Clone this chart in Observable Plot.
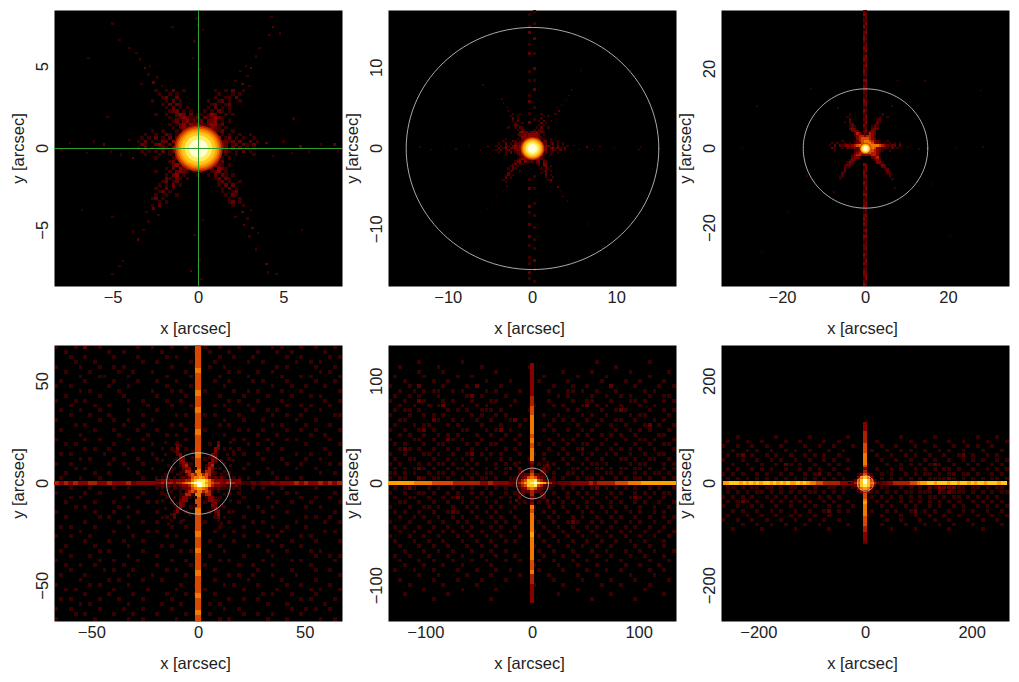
<!DOCTYPE html>
<html>
<head>
<meta charset="utf-8">
<script src="https://cdn.jsdelivr.net/npm/d3@7"></script>
<script src="https://cdn.jsdelivr.net/npm/@observablehq/plot@0.6"></script>
<style>
  body { margin: 0; background: white; width: 1019px; height: 682px; position: relative; overflow: hidden; }
  .panel { position: absolute; }
</style>
</head>
<body>
<script>
const panelLimits = [8.43, 17.1, 34.7, 67.5, 135, 270];
const panelTicks = [[-5, 0, 5], [-10, 0, 10], [-20, 0, 20], [-50, 0, 50], [-100, 0, 100], [-200, 0, 200]];
const apertureRadius = 15;
const heatColors = ["#000000", "#3a0000", "#600000", "#860000", "#a82000", "#d84800", "#f07800", "#ffa000", "#ffc820", "#ffee60", "#ffffd8"];

// bright core, arcsec radius and colour level, shared by the three inner panels
const coreRadii = [1.42, 1.32, 1.22, 1.12, 1.0, 0.8, 0.55];
const coreLevels = [4, 5, 6, 7, 8, 9, 10];

const centre1 = [
"00000100102001000000001001020010000",
"00000010010100000000000100010100000",
"00000001200200000000001001102000000",
"00001000102010000000100120100100000",
"00000001020210000000012001200000000",
"00000000102010100000102010100000000",
"00000000012201010001010210100000000",
"00000100100232020110132001010000000",
"00000000010123211202123210000000000",
"00000000001202312120223010100000000",
"00000000010123132321233120000000000",
"00000000001023213232132101000000000",
"00001001000103233342322120010000000",
"00100100210113244434231010100100100",
"01010201020224344444342301201010010",
"10201002203134444444443122120200201",
"02100231020344444444443032012021020",
"10201012103134444444443232020201010",
"01010102012034344444342102101020100",
"00100010010123244443231001001000010",
"00000100001203234342322010100000000",
"00000000012023223323232120000000000",
"00000000002313212132103210100000000",
"00000000102032310232120321000000000",
"00000100010232101020012301000000000",
"00000000102301000100102021010000000",
"00000000210210100000001202100000000",
"00000001201200000000000120100100000",
"00000010102010000000000102020000000",
"00000100201000000000000010201000000",
"00000012010000000000000010012000000",
"00000100100100000000000001021000000",
"00001201000000000000000000100100000",
"00000010100000000000000000120100000",
"00001020000000000000000000010010000"];

const specks1 = [[-2.6,4.0,2],[-2.9,4.5,1],[-2.4,4.3,1],[-3.1,4.9,2],[-3.4,5.4,1],[-2.8,5.0,1],[-3.6,5.8,1],[-4.6,6.6,1],[-4.0,6.1,1],[-3.3,3.9,1],[-2.1,3.8,1],
[2.6,3.9,2],[2.9,4.4,1],[3.1,4.9,2],[3.4,5.6,1],[2.8,5.0,1],[3.6,6.1,1],[4.2,6.9,1],[4.4,7.4,2],[4.3,8.0,1],[4.8,7.0,1],[3.0,3.8,1],[2.2,4.1,1],[2.5,4.7,1],
[2.6,-3.9,2],[2.9,-4.3,1],[3.2,-4.9,2],[3.0,-5.4,1],[3.4,-6.2,1],[4.0,-7.1,2],[4.1,-7.6,1],[2.2,-4.2,1],[3.5,-5.2,1],[2.7,-4.7,2],[3.1,-3.8,1],
[-2.6,-3.7,2],[-2.9,-4.5,1],[-3.2,-5.0,1],[-3.5,-5.6,2],[-4.4,-6.9,1],[-4.6,-7.2,1],[-5.0,-7.7,1],[-2.3,-4.1,1],[-3.0,-3.9,1],[-3.8,-5.1,1],
[-7.5,0.3,1],[-6.5,-0.3,1],[-5.5,0.2,2],[-4.5,-0.4,1],[-4.0,0.5,1],[-3.8,-0.6,2],[-5.1,-0.2,1],[-6.1,0.4,1],[-8.0,-0.1,1],[4.0,0.3,2],[4.4,-0.5,1],[5.0,0.4,1],[5.5,-0.3,1],[6.0,0.1,2],[6.5,-0.2,1],[7.2,0.2,1],[8.0,0.2,2],[8.2,-0.2,1],
[0,7.5,2],[-0.1,7.9,1],[0.3,7.2,1],[-0.2,6.5,1],[0.1,4.8,1],[-0.3,5.5,1],[0.1,-6.8,1],[-0.4,-7.5,2],[0.2,-8,1],[0,-7.2,1],[-0.2,-5.3,1],[0.3,-4.4,1],
[-6.4,5.5,1],[-5,7.6,1],[-5.3,1.9,1],[5.6,1.8,1],[-6.8,-3.8,1],[-5.0,-4.2,1],[6.1,-5.0,1],[4.6,-7.7,1],[-1.5,7.4,1]];

const centre2 = [
"0000000100100000000100000100000",
"0000001001000000000010100000000",
"0000000201000000000100000000000",
"0000000102000000001020010000000",
"0000000010010000000201000000000",
"0000000021000000001010000000000",
"0000010010210000010200100000000",
"0000000001021000102100000000000",
"0000000000232212231210000000000",
"0000000001223233332010000000000",
"0000000000133233232100000000000",
"0000100001023344433110010000000",
"0001000210123444443022010010000",
"0100201021234444444212012010100",
"1010210232344444444323201020101",
"0201302232344444444423023121020",
"1020121023244444444323012102010",
"0100102012234444444212011010000",
"0000100001223444432210010000000",
"0000000000123344333100000000000",
"0000000001233233233210000000000",
"0000000012303212023021000000000",
"0000000120210000012032000000000",
"0000001201000000001023010000000",
"0000010210000000000102100000000",
"0000002100100000000012010000000",
"0000020000000000000102000000000",
"0000120100000000000002010000000",
"0000201000000000000001001000000",
"0001000000000000000000120000000",
"0000100000000000000000010000000"];

const specks2 = [[-13.3,0.1,1],[-12,-0.2,1],[-10.5,0.2,1],[-9,-0.1,1],[-7.5,0.3,1],[-6.1,-0.3,2],[-5.2,0.2,2],[-4.7,-0.3,2],[5.0,0.3,2],[5.6,-0.2,1],[6.5,0.1,2],[7.2,-0.2,1],[8.1,0.2,2],[9.8,0.0,1],[12.7,-0.2,2],[12.9,0.1,1],
[4.4,6.5,1],[4.7,7.2,2],[4.0,6.0,1],[3.5,5.3,1],[3.2,4.6,2],[3.0,5.0,1],[-3.0,5.0,1],[-3.4,5.6,1],[-2.8,4.6,2],[-3.6,6.1,1],[-5.8,7.8,1],
[3.1,-4.8,2],[3.4,-5.4,1],[3.7,-6.0,2],[4.2,-6.6,1],[-3.0,-4.7,1],[-3.4,-5.4,1],[-4.2,-6.0,1],[-4.8,-6.9,1],[-5.3,-7.5,1],[5.8,9.6,1],[-9.8,3.9,1],[6.6,-9.4,1]];

const vSpike2a = "01000102000100200000100100001020001002000000000000000000100200000201000200020010001010020100";
const vSpike2b = "10001000020000100002000100200000100010000000000000000001000100001000100010001001000200100010";

const centre3 = [
"00000000100000000000010000000",
"00000001000000000000100100000",
"00000000200000000001200000000",
"00000010200000000002100000000",
"00000000120000000012000000000",
"00000000121000000121000000000",
"00000000232000000232000000000",
"00000000023200001320000000000",
"00000000002431014320000000000",
"00000000001344344310000000000",
"00000000000345554320000000000",
"00000100001245665432100100000",
"01010010101235666532101010101",
"10202123234566666666543212202",
"02100102123235666653212102010",
"00100000001234566543210010000",
"00000000001344555443100000000",
"00000000013443333443000000000",
"00000000023310000234100000000",
"00000000132000000023200000000",
"00000001320000000003310000000",
"00000012210000000000132000000",
"00000021100000000000022000000",
"00000020000000000000001200000",
"00000120000000000000000210000",
"00000200000000000000000120000",
"00001100000000000000000010000",
"00001000000000000000000001000",
"00000000000000000000000000000"];

const specks3 = [[-29.5,0,1],[-15.8,0.4,1],[10.5,0.2,1],[13,-0.3,1],[22,0.1,1],[28.5,0.2,1],[-24.8,-26,1],[-26,10.5,1],[14.5,16.8,1],[28,14.5,1],[-18.5,-16,1],[20.5,-22,1],[-13,15,1],[8,17,1],[-14,-7,1],[16,-9,1],[6.5,10.5,1],[-6.5,10,1],[7.2,-10,1],[-7.4,-11,1]];

const vSpike3a = "23121312232132123122321313221232132121312232132100031232132123122311232312132122132131232123";
const vSpike3b = "12213123121223132231121322312123121323123212323100023213122313213221312213231223121321223312";

const bg4 = [
"100010200100000001001000100100010010001000000101000100100010",
"001000000001001000000010000001001000100000100010010000001000",
"000100100000100001000001010000000010010001000000100100000101",
"000010001000000000100100000010000100000010010000001001010000",
"100001000100101000000000100001001001000000000010100000100010",
"001000010000010010001000000100100000101000100100000000010100",
"000001000110000100000001000010000010000010000001000101000001",
"010000100000100001000100010000000100100001010000100000100010",
"100100000001000100000001000010100001000000000100010010001000",
"000001010000010000001000101000010000010010100001000100000001",
"001000000100001000000100000100000010000100001000010001010000",
"100010100000000100100001001000100000101000100001000000001001",
"000100001001000000010000100010000101000010000000100101000100",
"010001000100000100000100000001000000100001001010000010010000",
"000100010001000000100000010100010100001000000100100100000011",
"100000000100100100001000000000100001000100010000001000100000",
"000010100000001000100000101001000010100000000101000010000100",
"010000001000100001000100000100010000001010010000100100100001",
"000001000000010000010001010001000001000000100010000001001000",
"100000100100000100100000000100100000010100001000101000000100",
"001010000000100000001000010000001000000010100100000010000001",
"000000101001000010100000100101000001001000001001000000001000",
"010100000010001000001000000000100100010100100000001001000100",
"000001010000100001000100010000010000100000010001000010010000",
"100100000001001000100000000210001001000010000000100100000101",
"000010100000000100001000100000100010000100001000001000100000",
"001000001001000001000000001000010100100000100100000000010010",
"010001000100000000100001000120000000010010000010100100000000",
"000101001000010100001000100000100010001000010000000100100001",
"000100010000100100000100010100001001000001010001000000100000",
"100000100100000000100010000010100000101000000100101000000010",
"000101000000001001000001000100000010000100001000000100100100",
"001000001000100000010100100000010100001000000010010001000001",
"000010100000010100000000010010000001000010100100000010010000",
"100000001000100001000100000100001000100000010000100000000010",
"001000000101000100000001000000100100000100000100000010100100",
"000000100000010000100100001000010000100001010000001000001001",
"010100001000000100000000100100000010000100000100100010000000",
"000001000000100000010100000001000100010000100001000000001010",
"100100010000000010000001010000000001000100001010000101000000",
"000000100001001000100000000100001000010000000100010000100001",
"001000001000000100000010100000100010000010100001000100000000",
"010000000101000000100000001010000001000000001000100001010000",
"000100010000000100000100000000101000000100000100000000100101",
"100000000100100001000000100100000010100000010000010100000010",
"001001001000001000000100000010010000001001000100000001000000",
"000100000010100010000001010000000100000000100000010000100100",
"010000100000000100001000000100000000101001000100001000000001",
"000001000001010000100010000000100100000010000001000000100000",
"100000010100000100000000001001000001010000100000100100000100",
"001010000000100000010000010000010000000100000010000001010001",
"000000100001000010000001000101000100000000010100010000100000",
"010100000100010000100000100000100000100100100000000101000010",
"000001010000000100000010001000001010000000001000100000001000",
"100100000100001000100000100000000001001000000000010010100100",
"000010100000100010000100000100101000000100100100000100000000",
"100000001000000100100000010000000010100000001000100000010010"];

const bg5 = [
"000000000000000000000000000000000000000000000000000000000000",
"000000000000000000000000000000000000000000000000000000000000",
"000000000000000000000000000000000000000000000000000000000000",
"000000100000000100000000000000000000000000010000000000100000",
"001000000010000000010000000001000000000000000001000000000000",
"000000100001000000000010000000000000100000100000001000000010",
"010000010000001001000000000000001000000100000100000000100000",
"000100000100100000001000010000010000010000001000010010000100",
"100010200001000010200001000000000010001001000020000100001001",
"001001010110010100001010000100000100011010010001000001010000",
"010010100010000012010000100000000001010000100100101000100110",
"100100210001010001000110001000000100001001100010001101000101",
"001001001012000100101000010000100010100012010100100010010000",
"010110100000101010011101000001000000010100001001210000100101",
"100010010101000001010010100000001001000010100100001011000010",
"001100000210010100100100012010000010101001001001100100010100",
"010001011000101000010001000100000100000100010010010001201001",
"100100120100000110001012010000001010010010100001001010100010",
"001010010010101000100100100100000001000101001010100100001100",
"100001100100210100010001001000000100101000100100010011010001",
"010100010011000010100110000100010010010011001001000100100110",
"001210100100101001001000101000000100100120010010101010010001",
"100100011010010012010101000100101001010010100101001001001100",
"010011000100100101001001010001001000101001001000110100110010",
"101000101011010010100010101000010010010010110100001011000101",
"010101210100101101001010120100100101001101011010110110100101",
"110101001011010010101100100100001010011010010110100101011010",
"101100210110100101011010011000010010100101101001010110100101",
"101010110101001010110101011000101011010101010110101011010101",
"010121001010010101001010100100010100101010120101010100101001",
"100100110100101001010100101000001010010101010010100101010110",
"010011001001012100101001010000101001010010100101001210100100",
"001100100100100101001010010010010010101001010010100101001001",
"100010011010010010100101001000100100100101001010010010010010",
"010100100100121001001010010000001010010010100101001010010100",
"001001010010010100100101001000100101001010010010100100100101",
"100010001001001010010010100100010010012100101001001010010010",
"010100100100100101000101001000001001001001010010010100100100",
"001001001001010010010010010000100100100100100100101001001001",
"100010010010001001001001000100010010010010010010010010010010",
"010001001001000100100100101000001001001001001001001001000100",
"001000100100100010010010000000100100010010010010000100100100",
"000100010010010001000100100000010010001000100100010010010001",
"010010001000100100010010001000001000100100010010001001000100",
"001000100100010001001000100100010010001001000100100000100010",
"000100010001000100000100000000100001000100010000010010001000",
"010001000100001000100010010000010000100001000100100000100100",
"000000100010000010000100000100000100000100010000001000010000",
"001000000100001000010000100000000010000010000010000100000010",
"000010000001000000100000000000100000100000001000100000100000",
"000000010000000100000010000000000000000100000000000001000000",
"000100000000100000000000000000000001000000000010000000000100",
"000000000100000000000100000000000000000000100000000100000000",
"000000000000000000000000000000000000000000000000000000000000",
"000000000000000000000000000000000000000000000000000000000000",
"000000000000000000000000000000000000000000000000000000000000",
"000000000000000000000000000000000000000000000000000000000000"];

const bg6 = [
"000100000001000000100000001000000000010000001000000001000100",
"010001001000010010000100100000001000000100100001001000010001",
"100100100100100001001001000100000100100010001000100101001000",
"001001010010010100100010010000010010010100100101001000100010",
"010120100101001001010100100000001001001010010010012010010100",
"100010010010100100100101001000000100100100101001001010100101",
"001001001001021010010010100000100010010101012100100101001010",
"010100101010010010101001001000001001010010101011010010010101",
"101010010100101001012010100000100101001010110101101101001010",
"010101010101010101010101010000010101010101011112101010101101",
"101100101012100110101101001000101001101012112212011010110101",
"011010110110101101010011010100010110010101021322211011010110",
"010101011010101010110101010000101010101101110212111010101011",
"101010100101010101001010100000010101010101011010110101010100",
"010121010010101010100101001000101010010101010101010010101010",
"100100101001001001010010100100000101001010010100101001010101",
"001010010010100100100120101000010010100120101001001010010010",
"010001001001001010010010000000100100010010010010010001001001",
"100100100100100100100100100000000010010001001001000100100100",
"000010010010010001001000001000000100001000100100100010000010",
"001000001000000100000010000000000001000010000001000000100000"];

const centre4 = [
"00010001000000000000020001000",
"00000002100000000000030000000",
"00100003000000000000320001000",
"00000012000010000000300000100",
"00010002300000000003200010000",
"00000000320010000012300000000",
"00100010330000000003201000100",
"00000000233000000033100100000",
"00001000134100000134000001000",
"00000010023301000243100000000",
"00000100014410001442000100000",
"00010001102454664541001010000",
"10101010121356676531212100101",
"22332323334468999864333233223",
"3343443445679aaa9765443344433",
"11212121233468aa9864332212121",
"10101010122356776532121010101",
"00000100102454664541010000000",
"00010000114410001441000100000",
"00000010133101000133100000000",
"00100000233000000033210001000",
"00000001320000000002300000000",
"00000010320001000003201000000",
"00010002300000000001310000000",
"00000013000000000000230000100",
"00000120000100000000130000000",
"00100020000000000000020100000",
"00000100010000000000010000000",
"00001000000000000000001000000"];

const vSpike4 = "5555655565565556555655655665565556556555655565565";
const hSpike4 = "434343344334333423333223211122100000000112122323334343343434";

const centre5 = [
"000100030000100",
"001000020001200",
"000200030012000",
"000120040022100",
"000012252210000",
"000123565321000",
"111245889542111",
"22245789a987542",
"111245889542111",
"000123565321000",
"000122242210000",
"000120040022000",
"000200030012000",
"002000020000200",
"000100030000100"];

const vSpike5 = "333333344556666565666566656666656666766666556443333";
const hSpike5 = "777777666655555444444334333322210000001222333343444455566677777777";

const centre6 = [
"00000300000",
"00000400000",
"00013531000",
"00036863000",
"00258a85200",
"12468a86421",
"00258985200",
"00036763000",
"00013431000",
"00000500000",
"00000500000"];

const vSpike6 = "3334444555666656566566666676666555443332";
const hSpike6 = "7788878787878878787877878766554444433332210000122334444455677887888788788787887888788";

const panelCentres = [centre1, centre2, centre3, centre4, centre5, centre6];
const centreExtents = [3.6, 4.35, 8.7, 20.3, 21.75, 32];

// turn rows of hex levels into cells spanning the given half extents, rows stay centred
function gridCells(rows, hx, hy, dx = 0, dy = 0) {
  const maxLen = d3.max(rows, r => r.length);
  const sx = 2 * hx / maxLen, sy = 2 * hy / rows.length;
  return rows.flatMap((row, j) => [...row].flatMap((c, i) => {
    const v = parseInt(c, 16);
    if (!v) return [];
    const x1 = dx - row.length * sx / 2 + i * sx;
    const y2 = dy + hy - j * sy;
    return [{x1, x2: x1 + sx, y1: y2 - sy, y2, v}];
  }));
}
const vStrip = (levels, thick, hy, dx = 0) => gridCells([...levels], thick / 2, hy, dx);
const hStrip = (levels, thick, hx, dy = 0) => gridCells([levels], hx, thick / 2, 0, dy);
const speckCells = (specks, size) => specks.map(([x, y, v]) => ({x1: x - size / 2, x2: x + size / 2, y1: y - size / 2, y2: y + size / 2, v}));

const ringAngles = d3.range(0, 361, 3);
const ring = r => ringAngles.map(a => ({x: r * Math.cos(a * Math.PI / 180), y: r * Math.sin(a * Math.PI / 180)}));

// noise behind the spikes, drawn with small gaps so it reads as specks
const backgrounds = [[], [], [], gridCells(bg4, 67.5, 67.5), gridCells(bg5, 135, 135), gridCells(bg6, 270, 95)];
const layers = [
  [...speckCells(specks1, 0.15)],
  [...speckCells(specks2, 0.2), ...vStrip(vSpike2a, 0.35, 17.1, -0.3), ...vStrip(vSpike2b, 0.35, 17.1, 0.25)],
  [...speckCells(specks3, 0.4), ...vStrip(vSpike3a, 0.45, 34.7, -0.25), ...vStrip(vSpike3b, 0.45, 34.7, 0.25)],
  [...vStrip(vSpike4, 3.2, 67.5), ...hStrip(hSpike4, 1.7, 67.5)],
  [...vStrip(vSpike5, 4.6, 117), ...hStrip(hSpike5, 3.4, 135)],
  [...vStrip(vSpike6, 6.8, 119), ...hStrip(hSpike6, 6, 267)]
];

panelLimits.forEach((lim, k) => {
  const cells = [...layers[k], ...gridCells(panelCentres[k], centreExtents[k], centreExtents[k])];
  const marks = [
    Plot.frame({fill: "black"}),
    Plot.rect(backgrounds[k], {x1: "x1", x2: "x2", y1: "y1", y2: "y2", fill: "v", inset: 0.5, shapeRendering: "crispEdges"}),
    Plot.rect(cells, {x1: "x1", x2: "x2", y1: "y1", y2: "y2", fill: "v", shapeRendering: "crispEdges"})
  ];
  if (k < 3) {
    coreRadii.forEach((r, i) => marks.push(Plot.line(ring(r), {x: "x", y: "y", fill: heatColors[coreLevels[i]], stroke: "none"})));
  }
  if (k === 0) {
    marks.push(Plot.ruleX([0], {stroke: "#2ca02c", strokeWidth: 1}), Plot.ruleY([0], {stroke: "#2ca02c", strokeWidth: 1}));
  } else {
    marks.push(Plot.line(ring(apertureRadius), {x: "x", y: "y", stroke: "#bdbdbd", strokeWidth: 0.9}));
  }
  marks.push(
    Plot.axisX({ticks: panelTicks[k], tickSize: 0, tickPadding: 5, label: null}),
    Plot.axisY({ticks: panelTicks[k], tickSize: 0, tickPadding: 7, tickRotate: -90, label: "y [arcsec]", labelAnchor: "center", labelArrow: "none", labelOffset: 42}),
    Plot.text(["x [arcsec]"], {frameAnchor: "bottom", lineAnchor: "middle", dx: -3, dy: 42, fontSize: 16.5})
  );
  const plot = Plot.plot({
    width: 342,
    height: 326,
    marginLeft: 54,
    marginRight: 0,
    marginTop: 0,
    marginBottom: 50,
    x: {domain: [-lim, lim]},
    y: {domain: [-lim, lim]},
    color: {type: "ordinal", domain: d3.range(heatColors.length), range: heatColors},
    style: {fontFamily: "'Liberation Sans', Arial, sans-serif", fontSize: "16.5px", color: "#222", background: "transparent", overflow: "visible"},
    marks
  });
  plot.classList.add("panel");
  plot.style.left = [0, 334, 667][k % 3] + "px";
  plot.style.top = (k < 3 ? 10 : 345) + "px";
  document.body.appendChild(plot);
});
</script>
</body>
</html>
